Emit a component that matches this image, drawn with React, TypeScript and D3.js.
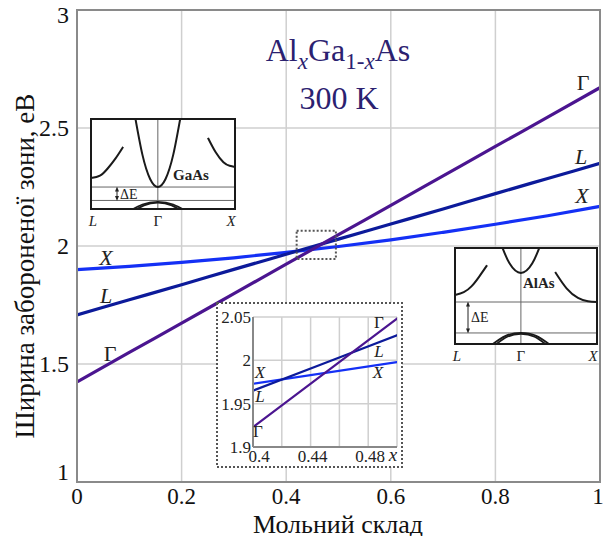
import React from 'react';
import * as d3 from 'd3';

// composition x and band gaps (eV)
const composition = [0, 0.1, 0.2, 0.3, 0.4, 0.5, 0.6, 0.7, 0.8, 0.9, 1];
const gammaGap = [1.424, 1.549, 1.673, 1.798, 1.923, 2.048, 2.172, 2.297, 2.422, 2.546, 2.671];
const lGap = [1.708, 1.772, 1.836, 1.901, 1.965, 2.029, 2.093, 2.157, 2.222, 2.286, 2.35];
const xGap = [1.9, 1.914, 1.931, 1.95, 1.973, 1.998, 2.026, 2.058, 2.092, 2.128, 2.168];

const xTicks = [0, 0.2, 0.4, 0.6, 0.8, 1];
const yTicks = [1, 1.5, 2, 2.5, 3];
const zoomXTicks = [0.4, 0.44, 0.48];
const zoomXGrid = [0.42, 0.44, 0.46, 0.48, 0.5];
const zoomYTicks = [1.9, 1.95, 2, 2.05];

// schematic band diagrams, [k, E] in normalised units (L = -0.866, Γ = 0, X = 1)
const gaasConduction = [
  [[-0.3, 1.05], [-0.2, 0.604], [-0.1, 0.334], [0, 0.244], [0.1, 0.334], [0.2, 0.604], [0.3, 1.05]],
  [[-0.866, 0.344], [-0.75, 0.37], [-0.65, 0.45], [-0.55, 0.56], [-0.45, 0.69]],
  [[0.65, 0.79], [0.75, 0.63], [0.85, 0.52], [0.93, 0.48], [1, 0.467]],
];
const gaasValence = [
  [[-0.44, -0.06], [-0.2, 0.05], [0, 0.08], [0.2, 0.05], [0.44, -0.06]],
  [[-0.38, -0.06], [-0.18, 0.04], [0, 0.07], [0.18, 0.04], [0.38, -0.06]],
];
const gaasLevels = [0.244, 0.095];

const alasConduction = [
  [[-0.27, 1.06], [-0.15, 0.84], [0, 0.74], [0.15, 0.84], [0.27, 1.06]],
  [[-0.866, 0.51], [-0.75, 0.54], [-0.65, 0.6], [-0.55, 0.7], [-0.445, 0.82]],
  [[0.45, 0.75], [0.6, 0.58], [0.75, 0.48], [0.88, 0.445], [1, 0.4375]],
];
const alasValence = [
  [[-0.42, -0.03], [-0.2, 0.085], [0, 0.115], [0.2, 0.085], [0.42, -0.03]],
  [[-0.37, -0.03], [-0.18, 0.075], [0, 0.105], [0.18, 0.075], [0.37, -0.03]],
];
const alasLevels = [0.4375, 0.115];

const colGamma = '#4b1590';
const colL = '#0c1a9a';
const colX = '#1430f5';

type Pt = number[];

// every text carries its own font
const T = ({ size, italic, bold, children, ...rest }: any) => (
  <text
    style={{
      fontFamily: '"Liberation Serif"',
      fontSize: size,
      fontStyle: italic ? 'italic' : 'normal',
      fontWeight: bold ? 'bold' : 'normal',
    }}
    {...rest}
  >
    {children}
  </text>
);

const BandInset = ({ box, conduction, valence, levels, name, namePos, arrow, id }: any) => {
  const k = d3.scaleLinear([-0.866, 1], [box.x0, box.x1]);
  const e = d3.scaleLinear([0, 1], [box.y1, box.y0]);
  const line = d3.line<Pt>().x(d => k(d[0])).y(d => e(d[1])).curve(d3.curveNatural);
  return (
    <g>
      <defs>
        <clipPath id={id}>
          <rect x={box.x0} y={box.y0} width={box.x1 - box.x0} height={box.y1 - box.y0} />
        </clipPath>
      </defs>
      <rect x={box.x0} y={box.y0} width={box.x1 - box.x0} height={box.y1 - box.y0} fill="#fff" />
      <g clipPath={`url(#${id})`}>
        <line x1={k(0)} x2={k(0)} y1={box.y0} y2={box.y1} stroke="#666" strokeWidth={1} />
        {levels.map((v: number, i: number) => (
          <line key={i} x1={box.x0} x2={box.x1} y1={e(v)} y2={e(v)} stroke="#666" strokeWidth={1} />
        ))}
        {conduction.map((c: Pt[], i: number) => (
          <path key={i} d={line(c) || ''} fill="none" stroke="#1a1a1a" strokeWidth={2} />
        ))}
        {valence.map((c: Pt[], i: number) => (
          <path key={i} d={line(c) || ''} fill="none" stroke="#1a1a1a" strokeWidth={1.8} />
        ))}
      </g>
      <rect x={box.x0} y={box.y0} width={box.x1 - box.x0} height={box.y1 - box.y0} fill="none" stroke="#1a1a1a" strokeWidth={2} />
      <T x={namePos[0]} y={namePos[1]} size={15} bold fill="#222">{name}</T>
      <line x1={arrow.x} x2={arrow.x} y1={e(levels[0]) + 2} y2={e(levels[1]) - 2} stroke="#222" strokeWidth={1}
        markerStart="url(#arr)" markerEnd="url(#arr)" />
      <T x={arrow.x + 3} y={(e(levels[0]) + e(levels[1])) / 2 + 5} size={14} fill="#222">ΔE</T>
      <T x={k(-0.866) + 2} y={box.y1 + 17} size={15} italic textAnchor="middle" fill="#222">L</T>
      <T x={k(0)} y={box.y1 + 17} size={15} textAnchor="middle" fill="#222">Γ</T>
      <T x={k(1) - 4} y={box.y1 + 17} size={15} italic textAnchor="middle" fill="#222">X</T>
    </g>
  );
};

const App = () => {
  const x = d3.scaleLinear([0, 1], [77, 600]);
  const y = d3.scaleLinear([1, 3], [482, 10]);

  const series = [
    { name: 'X', values: xGap, color: colX },
    { name: 'L', values: lGap, color: colL },
    { name: 'Γ', values: gammaGap, color: colGamma },
  ];

  const mainLine = d3.line<number>().x((_, i) => x(composition[i])).y(d => y(d)).curve(d3.curveMonotoneX);

  // zoomed inset
  const zx = d3.scaleLinear([0.4, 0.5], [253, 397]);
  const zy = d3.scaleLinear([1.9, 2.05], [447, 317]);
  const zoomLine = d3.line<number>().x((_, i) => zx(composition[i])).y(d => zy(d)).curve(d3.curveMonotoneX);

  return (
    <svg width={610} height={536} style={{ position: 'absolute', left: 0, top: 0, background: '#fff' }}>
      <defs>
        <marker id="arr" viewBox="0 0 10 10" refX="5" refY="5" markerWidth="5" markerHeight="5" orient="auto-start-reverse">
          <path d="M0,1 L10,5 L0,9 z" fill="#222" />
        </marker>
        <clipPath id="plotClip">
          <rect x={77} y={10} width={523} height={472} />
        </clipPath>
        <clipPath id="zoomClip">
          <rect x={253} y={317} width={144} height={130} />
        </clipPath>
      </defs>
      <rect width={610} height={536} fill="#fff" />

      {/* grid */}
      {xTicks.slice(1, -1).map(t => (
        <line key={'gx' + t} x1={x(t)} x2={x(t)} y1={y(3)} y2={y(1)} stroke="#cfcfcf" strokeWidth={1.5} />
      ))}
      {yTicks.slice(1, -1).map(t => (
        <line key={'gy' + t} x1={x(0)} x2={x(1)} y1={y(t)} y2={y(t)} stroke="#cfcfcf" strokeWidth={1.5} />
      ))}

      {/* title */}
      <T x={338} y={61} size={32} fill="#2b2170" textAnchor="middle">
        Al<tspan dy={8} fontSize={23} fontStyle="italic">x</tspan>
        <tspan dy={-8}>Ga</tspan>
        <tspan dy={8} fontSize={23}>1-</tspan>
        <tspan fontSize={23} fontStyle="italic">x</tspan>
        <tspan dy={-8}>As</tspan>
      </T>
      <T x={339} y={109} size={32} fill="#2b2170" textAnchor="middle">300 K</T>

      {/* curves */}
      <g clipPath="url(#plotClip)">
        {series.map(s => (
          <path key={s.name} d={mainLine(s.values) || ''} fill="none" stroke={s.color} strokeWidth={3.2} />
        ))}
      </g>

      {/* curve labels */}
      <g fill="#222">
        <T x={583} y={90} size={22} textAnchor="middle">Γ</T>
        <T x={581} y={164} size={22} italic textAnchor="middle">L</T>
        <T x={582} y={203} size={22} italic textAnchor="middle">X</T>
        <T x={106} y={265} size={22} italic textAnchor="middle">X</T>
        <T x={106} y={303} size={22} italic textAnchor="middle">L</T>
        <T x={110} y={361} size={22} textAnchor="middle">Γ</T>
      </g>

      {/* marked zoom area */}
      <rect x={x(0.42)} y={y(2.065)} width={x(0.495) - x(0.42)} height={y(1.945) - y(2.065)}
        fill="none" stroke="#555" strokeWidth={2} strokeDasharray="2,2" />

      {/* band diagrams */}
      <BandInset id="gaasClip" box={{ x0: 91, x1: 235, y0: 119, y1: 209 }} conduction={gaasConduction}
        valence={gaasValence} levels={gaasLevels} name="GaAs" namePos={[173, 180]} arrow={{ x: 117 }} />
      <BandInset id="alasClip" box={{ x0: 455, x1: 597, y0: 248, y1: 344 }} conduction={alasConduction}
        valence={alasValence} levels={alasLevels} name="AlAs" namePos={[523, 288]} arrow={{ x: 468 }} />

      {/* zoom inset */}
      <rect x={217} y={303} width={185} height={164} fill="#fff" stroke="#555" strokeWidth={2} strokeDasharray="2,2" />
      {zoomXGrid.map(t => (
        <line key={'zgx' + t} x1={zx(t)} x2={zx(t)} y1={zy(2.05)} y2={zy(1.9)} stroke="#cfcfcf" strokeWidth={1.5} />
      ))}
      {zoomYTicks.map(t => (
        <line key={'zgy' + t} x1={zx(0.4)} x2={zx(0.5)} y1={zy(t)} y2={zy(t)} stroke="#cfcfcf" strokeWidth={1.5} />
      ))}
      <g clipPath="url(#zoomClip)">
        {series.map(s => (
          <path key={'z' + s.name} d={zoomLine(s.values) || ''} fill="none" stroke={s.color} strokeWidth={2.2} />
        ))}
      </g>
      <line x1={zx(0.4)} x2={zx(0.4)} y1={zy(2.05)} y2={zy(1.9)} stroke="#888" strokeWidth={2} />
      <line x1={zx(0.4)} x2={zx(0.5)} y1={zy(1.9)} y2={zy(1.9)} stroke="#888" strokeWidth={2} />
      <g fill="#222">
        {zoomYTicks.map(t => (
          <T key={'zyl' + t} x={251} y={zy(t)} dy="0.35em" size={17} textAnchor="end">{d3.format('')(t)}</T>
        ))}
        {zoomXTicks.map((t, i) => (
          <T key={'zxl' + t} x={zx(t) + (i === 0 ? 6 : 2)} y={462} size={17} textAnchor="middle">{d3.format('')(t)}</T>
        ))}
        <T x={393} y={461} size={19} italic textAnchor="middle">x</T>
        <T x={379} y={328} size={17} textAnchor="middle">Γ</T>
        <T x={379} y={357} size={17} italic textAnchor="middle">L</T>
        <T x={378} y={378} size={17} italic textAnchor="middle">X</T>
        <T x={260} y={378} size={17} italic textAnchor="middle">X</T>
        <T x={260} y={402} size={17} italic textAnchor="middle">L</T>
        <T x={258} y={437} size={17} textAnchor="middle">Γ</T>
      </g>

      {/* frame */}
      <rect x={x(0)} y={y(3)} width={x(1) - x(0)} height={y(1) - y(3)} fill="none" stroke="#8a8a8a" strokeWidth={2} />

      {/* axes labels */}
      <g fill="#111">
        {yTicks.map(t => (
          <T key={'yl' + t} x={69} y={Math.min(Math.max(y(t), 15), 472)} dy="0.35em" size={24} textAnchor="end">{d3.format('')(t)}</T>
        ))}
        {xTicks.map(t => (
          <T key={'xl' + t} x={x(t) + (t === 1 ? -2 : 0)} y={504} size={23} textAnchor="middle">{d3.format('')(t)}</T>
        ))}
        <T x={338} y={533} size={26} textAnchor="middle">Мольний склад</T>
        <T transform="translate(34,266) rotate(-90)" size={27} textAnchor="middle">Ширина забороненої зони, еВ</T>
      </g>
    </svg>
  );
};

export default App;
